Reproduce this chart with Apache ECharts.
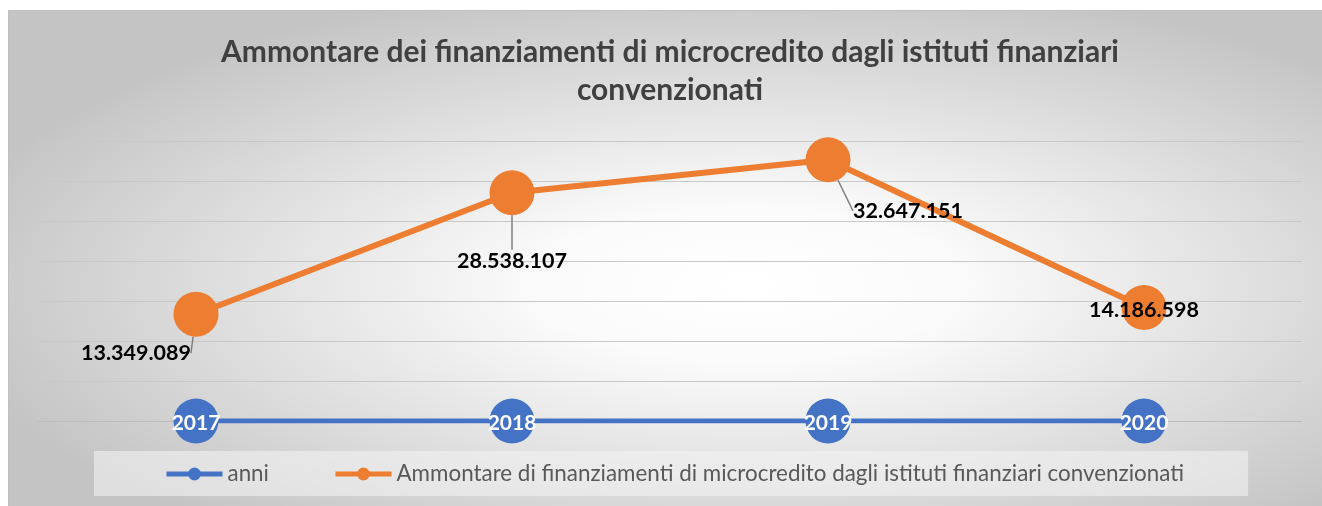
<!DOCTYPE html>
<html>
<head>
<meta charset="utf-8">
<title>Ammontare microcredito</title>
<script src="https://cdn.jsdelivr.net/npm/echarts@6/dist/echarts.min.js"></script>
<style>
  html, body { margin: 0; padding: 0; background: #fff; }
  #chart { width: 1322px; height: 506px; }
</style>
</head>
<body>
<div id="chart"></div>
<script>
// dati del grafico
const anni = ['2017', '2018', '2019', '2020']
const anniValori = [2017, 2018, 2019, 2020]
const ammontare = [13349089, 28538107, 32647151, 14186598]
const nomeAnni = 'anni'
const nomeAmmontare = 'Ammontare di finanziamenti di microcredito dagli istituti finanziari convenzionati'
const titolo = 'Ammontare dei finanziamenti di microcredito dagli istituti finanziari\nconvenzionati'

const font = 'Lato, "Open Sans", sans-serif'
// spostamento delle etichette rispetto al punto
const labelShift = [[-60, 39], [0, 68], [80, 51], [0, 3]]

// 13349089 -> 13.349.089
function formatIt (n) {
  return String(n).replace(/\B(?=(\d{3})+(?!\d))/g, '.')
}

const chart = echarts.init(document.getElementById('chart'))

const option = {
  backgroundColor: '#fff',
  graphic: [
    {
      // sfondo con sfumatura radiale (ellittica)
      type: 'rect',
      z: -100,
      silent: true,
      x: 8,
      y: 10,
      scaleY: 500 / 1320,
      shape: { x: 0, y: 0, width: 1320, height: 1320 },
      style: {
        fill: new echarts.graphic.RadialGradient(0.56, 0.55, 0.62, [
          { offset: 0, color: '#ffffff' },
          { offset: 0.25, color: '#fbfbfb' },
          { offset: 1, color: '#c4c4c4' }
        ])
      }
    },
    {
      type: 'rect',
      z: -99,
      silent: true,
      shape: { x: 8.5, y: 10.5, width: 1330, height: 520 },
      style: { fill: 'none', stroke: '#c0c0c0', lineWidth: 1 }
    }
  ],
  title: {
    text: titolo,
    left: 670,
    top: 33,
    padding: 0,
    textAlign: 'center',
    textStyle: {
      fontFamily: font,
      fontSize: 30,
      fontWeight: 'bold',
      color: '#404040',
      lineHeight: 38
    }
  },
  legend: {
    left: 94,
    top: 451,
    padding: [12, 64, 11, 70],
    itemGap: 64,
    itemWidth: 56,
    itemHeight: 16,
    backgroundColor: 'rgba(242,242,242,0.6)',
    lineStyle: { width: 5 },
    textStyle: {
      fontFamily: font,
      fontSize: 22.4,
      color: '#595959'
    },
    data: [nomeAnni, nomeAmmontare]
  },
  grid: {
    left: 38,
    right: 20,
    top: 141,
    bottom: 85
  },
  xAxis: {
    type: 'category',
    data: anni,
    axisLabel: { show: false },
    axisTick: { show: false },
    axisLine: { lineStyle: { color: '#bcbcbc', width: 1 } }
  },
  yAxis: {
    type: 'value',
    min: 0,
    max: 35000000,
    interval: 5000000,
    axisLabel: { show: false },
    axisLine: { show: false },
    axisTick: { show: false },
    splitLine: { lineStyle: { color: '#c8c8c8', width: 1 } }
  },
  series: [
    {
      name: nomeAnni,
      type: 'line',
      data: anniValori,
      symbol: 'circle',
      symbolSize: 45,
      color: '#4472C4',
      lineStyle: { width: 5, color: '#4472C4' },
      label: {
        show: true,
        position: 'inside',
        color: '#fff',
        fontFamily: font,
        fontSize: 21,
        fontWeight: 'bold',
        offset: [0, 2]
      }
    },
    {
      name: nomeAmmontare,
      type: 'line',
      data: ammontare,
      symbol: 'circle',
      symbolSize: 45,
      color: '#ED7D31',
      lineStyle: { width: 6, color: '#ED7D31' },
      label: {
        show: true,
        position: 'inside',
        color: '#000',
        fontFamily: font,
        fontSize: 21.5,
        fontWeight: 'bold',
        formatter: p => formatIt(p.value)
      },
      labelLine: {
        show: true,
        lineStyle: { color: '#808080', width: 1.5 }
      },
      labelLayout: p => ({
        dx: labelShift[p.dataIndex][0],
        dy: labelShift[p.dataIndex][1]
      })
    }
  ]
}

chart.setOption(option)
</script>
</body>
</html>
